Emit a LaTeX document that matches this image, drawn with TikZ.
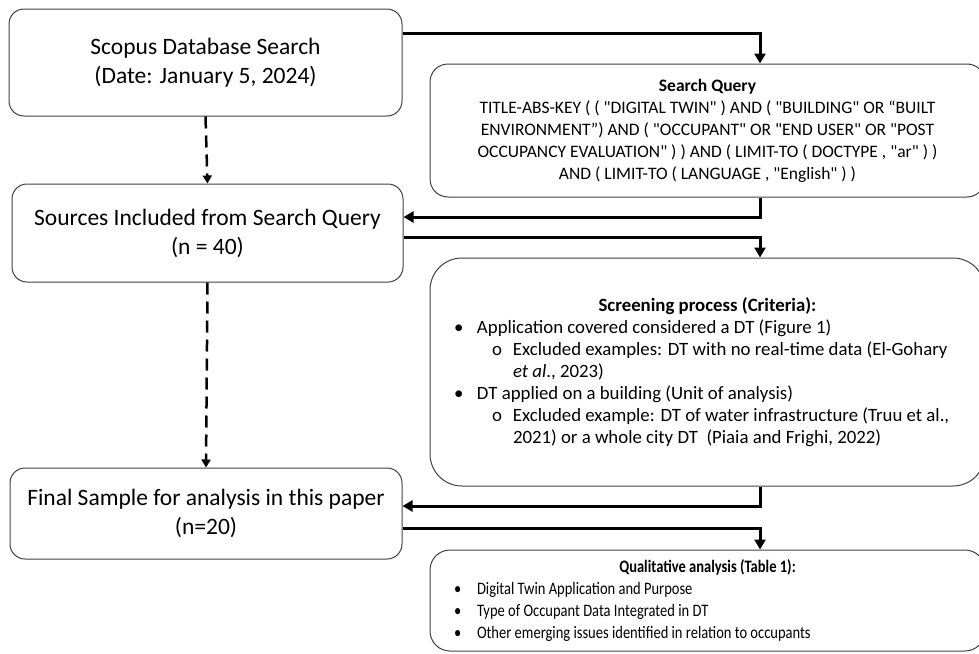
\documentclass[tikz,border=0pt]{standalone}
\usepackage{fontspec}
\setmainfont{Carlito}[Ligatures=TeXOff]
\newfontfamily\narrowfont{Carlito}[Ligatures=TeXOff, FakeStretch=0.83]
\usetikzlibrary{arrows.meta}

\newcommand{\critem}[1]{\par\hangindent=23pt\hangafter=1\noindent\makebox[23pt][l]{\textbullet}#1}
\newcommand{\subcritem}[1]{\par\hangindent=59pt\hangafter=1\noindent\hspace*{38pt}\makebox[21pt][l]{o}#1}

\tikzset{
	stagebox/.style={draw=black!75, line width=1pt, rounded corners=15pt, align=center, inner sep=0pt,
		font=\fontsize{23.5}{29}\selectfont},
	infobox/.style={draw=black!75, line width=1pt, inner sep=0pt, minimum width=555pt},
	link/.style={line width=3pt},
	dashlink/.style={line width=2.5pt, dash pattern=on 12pt off 7pt}
}

\begin{document}
\begin{tikzpicture}[x=1pt,y=-1pt,>={Triangle[length=10pt,width=11pt]},line join=miter]
	\useasboundingbox (0,0) rectangle (979,653);
	\clip (0,0) rectangle (979,653);
	% left column
	\node[stagebox, minimum width=393pt, minimum height=107pt] (scopus) at (205.5,62.5)
		{Scopus Database Search\\(Date: January 5, 2024)};
	\node[stagebox, minimum width=391pt, minimum height=98pt] (sources) at (207.5,233)
		{Sources Included from Search Query\\(n = 40)};
	\node[stagebox, minimum width=392pt, minimum height=91pt] (final) at (206,513.5)
		{Final Sample for analysis in this paper\\(n=20)};
	% right column
	\node[infobox, rounded corners=18pt, align=center, minimum height=133pt,
		font=\fontsize{17.5}{22}\selectfont] (query) at (707.5,130.5)
		{\textbf{Search Query}\\
		TITLE-ABS-KEY ( ( "DIGITAL TWIN" ) AND ( "BUILDING" OR “BUILT\\
		ENVIRONMENT”) AND ( "OCCUPANT" OR "END USER" OR "POST\\
		OCCUPANCY EVALUATION" ) ) AND ( LIMIT-TO ( DOCTYPE , "ar" ) )\\
		AND ( LIMIT-TO ( LANGUAGE , "English" ) )};
	\node[infobox, rounded corners=32pt, minimum height=228pt,
		font=\fontsize{18.8}{22}\selectfont] (screen) at (707.5,372)
		{\begin{minipage}{507pt}
		{\centering\textbf{Screening process (Criteria):}\par}
		\raggedright
		\critem{Application covered considered a DT (Figure 1)}
		\subcritem{Excluded examples: DT with no real-time data (El-Gohary\newline\textit{et al}., 2023)}
		\critem{DT applied on a building (Unit of analysis)}
		\subcritem{Excluded example: DT of water infrastructure (Truu et al.,\newline 2021) or a whole city DT\ \ (Piaia and Frighi, 2022)}
		\end{minipage}};
	\node[infobox, rounded corners=20pt, minimum height=101pt,
		font=\narrowfont\fontsize{17.5}{22}\selectfont] (qual) at (707.5,600.5)
		{\begin{minipage}{507pt}
		{\centering\textbf{Qualitative analysis (Table 1):}\par}
		\raggedright
		\critem{Digital Twin Application and Purpose}
		\critem{Type of Occupant Data Integrated in DT}
		\critem{Other emerging issues identified in relation to occupants}
		\end{minipage}};
	\coordinate (trunk) at (760,0);
	% connectors
	\draw[link,->] ([yshift=-25pt]scopus.north east) -| (query.north -| trunk);
	\draw[link,->] (query.south -| trunk) |- ([yshift=16pt]sources.east);
	\draw[link,->] ([yshift=-4pt]sources.east) -| (screen.north -| trunk);
	\draw[link,->] (screen.south -| trunk) |- ([yshift=7.5pt]final.east);
	\draw[link,->] ([yshift=-14.5pt]final.east) -| (qual.north -| trunk);
	\draw[dashlink,-{Triangle[length=8pt,width=9pt]}] (scopus.south) -- (sources.north);
	\draw[dashlink,-{Triangle[length=8pt,width=9pt]}] (sources.south) -- (final.north);
\end{tikzpicture}
\end{document}
